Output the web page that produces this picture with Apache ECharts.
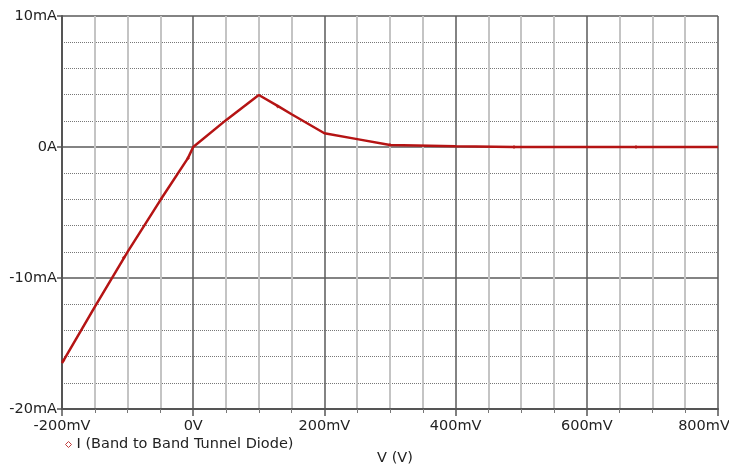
<!DOCTYPE html>
<html>
<head>
<meta charset="utf-8">
<script src="https://cdn.jsdelivr.net/npm/echarts@6/dist/echarts.min.js"></script>
<style>html,body{margin:0;padding:0;background:#fff;overflow:hidden}#c{width:729px;height:467px}</style>
</head>
<body>
<div id="c"></div>
<script>
// Voltage (mV) and current (mA) of the trace
const voltage = [-200, -150, -100, -50, -8, 0, 50, 100, 130, 150, 200, 250, 300, 400, 489, 600, 675, 800];
const current = [-16.5, -12.2, -8.0, -4.05, -0.85, 0, 2.05, 3.97, 3.1, 2.5, 1.05, 0.6, 0.15, 0.05, 0, 0, 0, 0];
// Sample markers along the trace
const markV = [-198, -106, -8, 129, 300, 489, 675];
const markI = [-16.3, -8.45, -0.85, 3.1, 0.15, 0, 0];
const xTicks = [-200, 0, 200, 400, 600, 800];
const yTicks = [-20, -10, 0, 10];
const seriesName = 'I (Band to Band Tunnel Diode)';

const lineData = voltage.map((v, i) => [v, current[i]]);
const markData = markV.map((v, i) => [v, markI[i]]);
const font = 'DejaVu Sans, Arial, sans-serif';
const xMax = xTicks[xTicks.length - 1];
const chart = echarts.init(document.getElementById('c'), null, {renderer: 'canvas'});
chart.setOption({
  animation: false,
  grid: {left: 62, right: 11, top: 16, bottom: 58, containLabel: false, outerBoundsMode: 'none'},
  legend: {
    left: 60, top: 432, icon: 'diamond', itemWidth: 6, itemHeight: 6, itemGap: 4,
    data: [{name: seriesName, itemStyle: {color: '#fff', borderColor: '#c03a3a', borderWidth: 1}}],
    textStyle: {fontFamily: font, fontSize: 14.5, color: '#222'}
  },
  xAxis: {
    type: 'value', min: xTicks[0], max: xMax, interval: 200,
    name: 'V (V)', nameLocation: 'middle', nameGap: 42,
    nameTextStyle: {fontFamily: font, fontSize: 14.5, color: '#222', padding: [0, 0, 0, 10]},
    axisLine: {show: true, onZero: false, lineStyle: {color: '#555', width: 2}},
    axisTick: {show: true, length: 7, lineStyle: {color: '#555', width: 1.5}},
    minorTick: {show: true, splitNumber: 4, length: 4, lineStyle: {color: '#777', width: 1}},
    axisLabel: {fontFamily: font, fontSize: 14.5, color: '#222', margin: 10,
      formatter: v => v === xMax ? '{last|' + v + 'mV}' : (v === 0 ? '0V' : v + 'mV'),
      rich: {last: {fontFamily: font, fontSize: 14.5, color: '#222', padding: [0, 28, 0, 0]}}},
    splitLine: {show: true, lineStyle: {color: '#5a5a5a', width: 1.5}},
    minorSplitLine: {show: true, lineStyle: {color: '#c4c4c4', width: 2}}
  },
  yAxis: {
    type: 'value', min: yTicks[0], max: yTicks[yTicks.length - 1], interval: 10,
    axisLine: {show: true, onZero: false, lineStyle: {color: '#555', width: 2}},
    axisTick: {show: true, length: 5, lineStyle: {color: '#555', width: 1.5}},
    minorTick: {show: false},
    axisLabel: {fontFamily: font, fontSize: 14.5, color: '#222', margin: 5,
      formatter: v => v === 0 ? '0A' : v + 'mA'},
    splitLine: {show: true, lineStyle: {color: '#5a5a5a', width: 1.5}},
    minorSplitLine: {show: true, lineStyle: {color: '#777', width: 1, type: [1, 1]}}
  },
  series: [
    {
      name: seriesName, type: 'line', data: lineData, showSymbol: false, symbol: 'none',
      lineStyle: {color: '#b51414', width: 2.5}, itemStyle: {color: '#b51414'}, z: 5
    },
    {
      name: 'marks', type: 'scatter', data: markData, symbol: 'diamond', symbolSize: 4,
      itemStyle: {color: '#b51414'}, z: 6, silent: true
    }
  ]
});
</script>
</body>
</html>
